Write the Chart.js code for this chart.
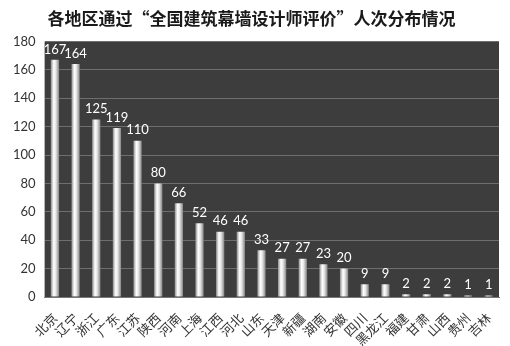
<!DOCTYPE html>
<html>
<head>
<meta charset="utf-8">
<script src="https://cdn.jsdelivr.net/npm/chart.js@4/dist/chart.umd.min.js"></script>
<style>
  html, body { margin: 0; padding: 0; background: #ffffff; }
  #wrap { width: 510px; height: 346px; }
</style>
</head>
<body>
<div id="wrap"><canvas id="regionChart" width="510" height="346"></canvas></div>
<script>
// 各地区人数
const regions = ['北京', '辽宁', '浙江', '广东', '江苏', '陕西', '河南', '上海', '江西', '河北', '山东',
                 '天津', '新疆', '湖南', '安徽', '四川', '黑龙江', '福建', '甘肃', '山西', '贵州', '吉林'];
const counts = [167, 164, 125, 119, 110, 80, 66, 52, 46, 46, 33, 27, 27, 23, 20, 9, 9, 2, 2, 2, 1, 1];
const yTicks = [0, 20, 40, 60, 80, 100, 120, 140, 160, 180];

const BAR_PCT = 0.4;

// 绘图区深灰底色
const plotBackground = {
  id: 'plotBackground',
  beforeDraw(chart) {
    const { ctx, chartArea: a } = chart;
    ctx.save();
    ctx.fillStyle = '#3d3d3d';
    ctx.fillRect(a.left, a.top, a.right - a.left, a.bottom - a.top);
    ctx.restore();
  }
};

// 柱子做成圆柱感的横向渐变
function barGradient(context) {
  const chart = context.chart;
  const xScale = chart.scales.x;
  if (!xScale || !chart.chartArea) return '#dddddd';
  const cx = xScale.getPixelForValue(context.dataIndex);
  const w = (chart.chartArea.right - chart.chartArea.left) / regions.length * BAR_PCT;
  const x0 = cx - w / 2;
  const g = chart.ctx.createLinearGradient(x0, 0, x0 + w, 0);
  g.addColorStop(0, '#8e8e8e');
  g.addColorStop(0.35, '#ffffff');
  g.addColorStop(0.6, '#e6e6e6');
  g.addColorStop(1, '#858585');
  return g;
}

// 柱顶数值
const valueLabels = {
  id: 'valueLabels',
  afterDatasetsDraw(chart) {
    const ctx = chart.ctx;
    ctx.save();
    ctx.fillStyle = '#ffffff';
    ctx.font = '13px Lato, "Open Sans", sans-serif';
    ctx.textAlign = 'center';
    ctx.textBaseline = 'bottom';
    chart.getDatasetMeta(0).data.forEach((bar, i) => {
      ctx.fillText(String(counts[i]), bar.x, bar.y - 4);
    });
    ctx.restore();
  }
};

new Chart(document.getElementById('regionChart'), {
  type: 'bar',
  data: {
    labels: regions,
    datasets: [{
      data: counts,
      backgroundColor: barGradient,
      borderWidth: 0,
      categoryPercentage: 1,
      barPercentage: BAR_PCT
    }]
  },
  options: {
    responsive: false,
    animation: false,
    layout: { padding: { left: 4, right: 11, bottom: 0 } },
    plugins: {
      legend: { display: false },
      tooltip: { enabled: false },
      title: {
        display: true,
        text: '各地区通过“全国建筑幕墙设计师评价”人次分布情况',
        color: '#1a1a1a',
        font: { family: '"Noto Sans CJK SC", sans-serif', size: 17, weight: 'bold' },
        padding: { top: 8, bottom: 13 }
      }
    },
    scales: {
      x: {
        afterFit(scale) { scale.height = 49; },
        grid: { display: false },
        border: { color: '#777777' },
        ticks: {
          color: '#333333',
          font: { family: '"Noto Sans CJK SC", sans-serif', size: 13 },
          minRotation: 45,
          maxRotation: 45,
          autoSkip: false,
          padding: 5
        }
      },
      y: {
        min: 0,
        max: 180,
        afterBuildTicks(scale) {
          scale.ticks = yTicks.map(v => ({ value: v }));
        },
        grid: { color: '#6e6e6e', lineWidth: 1, drawTicks: false },
        border: { display: false },
        ticks: {
          color: '#333333',
          font: { family: 'Lato, "Open Sans", sans-serif', size: 13 },
          padding: 9
        }
      }
    }
  },
  plugins: [plotBackground, valueLabels]
});
</script>
</body>
</html>
